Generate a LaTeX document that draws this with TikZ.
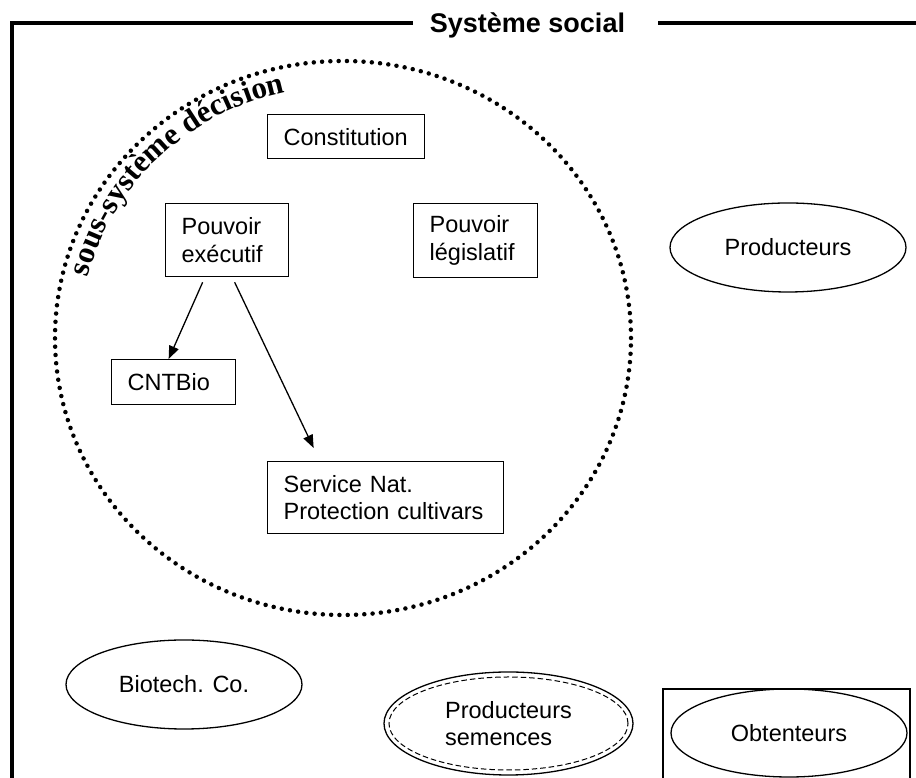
\documentclass[tikz,border=0pt]{standalone}
\usepackage{fontspec}
\setmainfont{Liberation Sans}
\newfontfamily\serifface{Liberation Serif}
\usetikzlibrary{arrows.meta,decorations.text,shapes.geometric}
\begin{document}
\begin{tikzpicture}[x=1pt,y=1pt,
  every node/.style={font=\fontsize{23.5}{27.5}\selectfont},
  stepbox/.style={draw, line width=1.3pt, rectangle, inner xsep=16pt, inner ysep=0pt, align=left, anchor=north west},
  oval/.style={draw, line width=1.3pt, ellipse, inner sep=0pt},
  link/.style={line width=1.3pt, -{Triangle[length=13pt,width=10pt]}},
  frameline/.style={line width=4pt, line join=miter},
  dots/.style={line width=4.5pt, line cap=round, dash pattern=on 0pt off 8.3pt},
]
\useasboundingbox (0,0) rectangle (916,778);
\clip (0,0) rectangle (916,778);

% frame and title
\node[font=\bfseries\fontsize{27}{30}\selectfont, anchor=base, inner sep=0pt] (title) at (527.5,745) {Système social};
\draw[frameline] (11.5,-5) -- (11.5,755) -- (413,755);
\draw[frameline] (658,755) -- (925,755);

% decision subsystem
\coordinate (dc) at (343,440);
\draw[dots] (dc) ellipse [x radius=288pt, y radius=277pt];
\path[decorate, decoration={text along path, text align=left,
  text={|\serifface\bfseries\fontsize{31}{31}\selectfont|sous-système décision}}]
  (dc) ++(166:263pt and 252pt) arc[start angle=166, end angle=90, x radius=263pt, y radius=252pt];

% boxes
\node[stepbox, text width=125pt, minimum height=44pt] (const) at (267,664) {Constitution};
\node[stepbox, text width=91pt, minimum height=73pt] (pe) at (165,575) {Pouvoir\\exécutif};
\node[stepbox, text width=92pt, minimum height=74pt] (pl) at (413,575) {Pouvoir\\législatif};
\node[stepbox, text width=92pt, minimum height=45pt] (cnt) at (111,419) {CNTBio};
\node[stepbox, text width=204pt, minimum height=72pt] (sn) at (267,317) {Service Nat.\\Protection cultivars};

% arrows
\draw[link] ([xshift=-24.5pt,yshift=-5pt]pe.south) -- ([xshift=-5pt]cnt.north);
\draw[link] ([xshift=7.5pt,yshift=-5pt]pe.south) -- ([xshift=-72pt,yshift=13pt]sn.north);

% ellipses
\node[oval, minimum width=236pt, minimum height=89pt] (prod) at (788,530.5) {Producteurs};
\node[oval, minimum width=236pt, minimum height=89pt] (bio) at (184,93.5) {Biotech. Co.};
\node[oval, minimum width=249pt, minimum height=103pt, align=left] (sem) at (508.5,54.5) {Producteurs\\semences};
\draw[line width=1pt, dash pattern=on 5.5pt off 3pt] (sem.center) ellipse [x radius=119.5pt, y radius=46.5pt];
\node[oval, minimum width=236pt, minimum height=88pt] (obt) at (789,45) {Obtenteurs};
\draw[line width=1.3pt] (663,-5) -- (663,89) -- (910,89) -- (910,-5);
\end{tikzpicture}
\end{document}
